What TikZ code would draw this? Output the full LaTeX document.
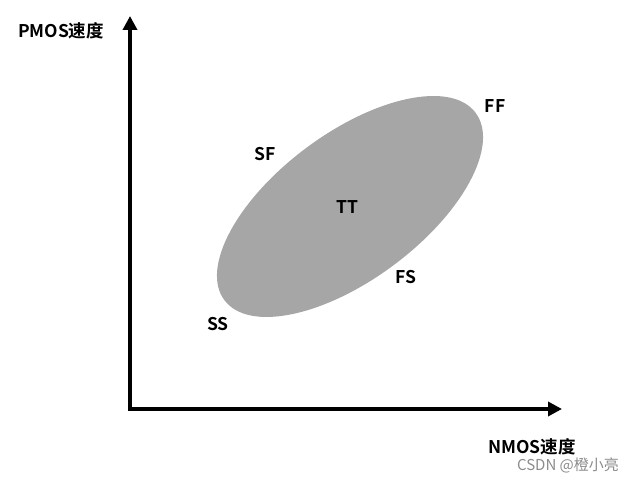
\documentclass[tikz,border=0pt]{standalone}
\usepackage{fontspec}
\setmainfont{Noto Sans CJK SC}[BoldFont={Noto Sans CJK SC Bold}]
\usetikzlibrary{arrows.meta,positioning}
\definecolor{regiongray}{HTML}{A6A6A6}

\begin{document}
\begin{tikzpicture}
[x=1pt,y=1pt,
axis/.style={black,line width=4pt,-{Triangle[length=14pt,width=14pt]}},
region/.style={fill=regiongray,draw=none},
lab/.style={font=\fontsize{17.5}{20}\selectfont\bfseries,inner sep=0pt}]
\useasboundingbox (0,0) rectangle (633,481);
%%
\coordinate (o) at (130,72);
\coordinate (ytip) at (130,465);
\coordinate (xtip) at (562,72);
\draw[axis] (o.center) -- (ytip);
\draw[axis] ([xshift=-2pt]o.center) -- (xtip);
%%
\fill[region] (350,274.5) ellipse [x radius=156.7,y radius=73.1,rotate=36.7];
%%
\node[lab] (pmos) at (61,450) {PMOS速度};
\node[lab] (nmos) at (532,34) {NMOS速度};
\node[lab] (ff) at (495,375) {FF};
\node[lab] (sf) at (265,327) {SF};
\node[lab] (tt) at (347,274) {TT};
\node[lab] (fs) at (406,204) {FS};
\node[lab] (ss) at (218,157) {SS};
\node[font=\fontsize{15}{17}\selectfont,text=black!45,inner sep=0pt] (mark) at (568,16) {CSDN @橙小亮};
\end{tikzpicture}
\end{document}
